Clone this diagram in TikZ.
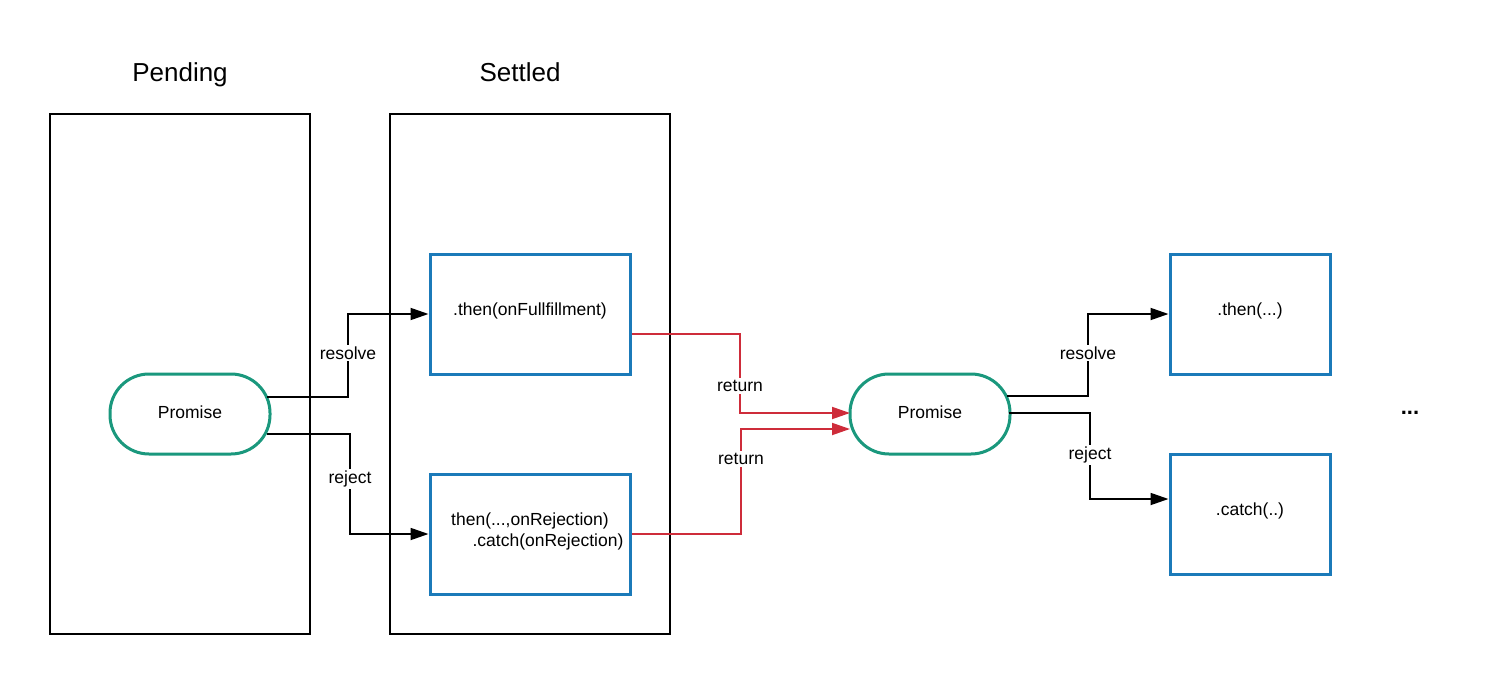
\documentclass[tikz,border=0pt]{standalone}
\usepackage{fontspec}
\setmainfont{Liberation Sans}
\usetikzlibrary{arrows.meta}
\definecolor{pblue}{RGB}{27,122,185}
\definecolor{pgreen}{RGB}{26,152,125}
\definecolor{pred}{RGB}{206,44,58}
\begin{document}
\begin{tikzpicture}[x=1pt,y=-1pt,
  frame/.style={draw=black, line width=1.8pt, minimum height=520pt, inner sep=0pt},
  title/.style={font=\fontsize{26}{30}\selectfont, anchor=base, inner sep=0pt},
  txt/.style={font=\fontsize{17.5}{21}\selectfont, align=center, inner sep=0pt},
  box/.style={draw=pblue, line width=3pt, minimum width=200pt, minimum height=120pt, inner sep=0pt},
  smallbox/.style={box, minimum width=160pt},
  prom/.style={draw=pgreen, line width=3pt, minimum width=160pt, minimum height=80pt, rounded corners=39pt, inner sep=0pt},
  conn/.style={draw=black, line width=1.8pt, -{Triangle[length=18pt,width=12pt]}},
  rconn/.style={draw=pred, line width=1.8pt, -{Triangle[length=18pt,width=12pt]}},
  lbl/.style={fill=white, inner sep=2pt, font=\fontsize{17.5}{21}\selectfont}
]
\useasboundingbox[fill=white] (0,0) rectangle (1490,674);

\node[frame, minimum width=260pt] (pending) at (180,374) {};
\node[frame, minimum width=280pt] (settled) at (530,374) {};
\node[title] (tpend) at (180,82) {Pending};
\node[title] (tset) at (520,82) {Settled};

\node[prom] (p1) at (190,414) {};
\node[txt] (p1t) at (190,412) {Promise};
\node[prom] (p2) at (930,414) {};
\node[txt] (p2t) at (930,412) {Promise};

\node[box] (then1) at (530,314) {};
\node[txt] (then1t) at (530,311) {.then(onFullfillment)};
\node[box] (catch1) at (530,534) {};
\node[txt] (catch1t) at (530,531.5) {then(...,onRejection)\\[0pt]\hspace*{36pt}.catch(onRejection)};

\node[smallbox] (then2) at (1250,314) {};
\node[txt] (then2t) at (1250,311) {.then(...)};
\node[smallbox] (catch2) at (1250,514) {};
\node[txt] (catch2t) at (1250,511) {.catch(..)};

\node[font=\bfseries\fontsize{22}{26}\selectfont] (dots) at (1410,413) {...};

% left connectors
\coordinate (a1) at (267,397);
\coordinate (a2) at (267,434);
\draw[conn] (a1) -- (348,397) -- (348,314) -- (then1.west);
\node[lbl] (lres) at (348,353) {resolve};
\draw[conn] (a2) -- (350,434) -- (350,534) -- (catch1.west);
\node[lbl] (lrej) at (350,479) {reject};

% red connectors
\coordinate (r1) at (then1.east |- 0,334);
\coordinate (r2) at (catch1.east);
\coordinate (e1) at (850,413);
\coordinate (e2) at (850,429);
\draw[rconn] (r1) -- (740,334) -- (740,413) -- (e1);
\node[lbl] (ret1) at (740,386) {return};
\draw[rconn] (r2) -- (741,534) -- (741,429) -- (e2);
\node[lbl] (ret2) at (741,459) {return};

% right connectors
\coordinate (b1) at (1007,396);
\coordinate (b2) at (1009,413);
\draw[conn] (b1) -- (1088,396) -- (1088,314) -- (then2.west);
\node[lbl] (rres) at (1088,353) {resolve};
\draw[conn] (b2) -- (1090,413) -- (1090,499) -- (catch2.west |- 0,499);
\node[lbl] (rrej) at (1090,455) {reject};
\end{tikzpicture}
\end{document}
